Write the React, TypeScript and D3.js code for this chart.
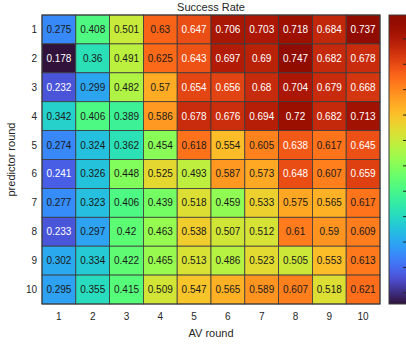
import React, { useRef, useEffect } from 'react';
import * as d3 from 'd3';

const avRounds = ['1', '2', '3', '4', '5', '6', '7', '8', '9', '10'];
const predictorRounds = ['1', '2', '3', '4', '5', '6', '7', '8', '9', '10'];

// rows = predictor round, columns = AV round
const row1 = [0.275, 0.408, 0.501, 0.63, 0.647, 0.706, 0.703, 0.718, 0.684, 0.737];
const row2 = [0.178, 0.36, 0.491, 0.625, 0.643, 0.697, 0.69, 0.747, 0.682, 0.678];
const row3 = [0.232, 0.299, 0.482, 0.57, 0.654, 0.656, 0.68, 0.704, 0.679, 0.668];
const row4 = [0.342, 0.406, 0.389, 0.586, 0.678, 0.676, 0.694, 0.72, 0.682, 0.713];
const row5 = [0.274, 0.324, 0.362, 0.454, 0.618, 0.554, 0.605, 0.638, 0.617, 0.645];
const row6 = [0.241, 0.326, 0.448, 0.525, 0.493, 0.587, 0.573, 0.648, 0.607, 0.659];
const row7 = [0.277, 0.323, 0.406, 0.439, 0.518, 0.459, 0.533, 0.575, 0.565, 0.617];
const row8 = [0.233, 0.297, 0.42, 0.463, 0.538, 0.507, 0.512, 0.61, 0.59, 0.609];
const row9 = [0.302, 0.334, 0.422, 0.465, 0.513, 0.486, 0.523, 0.505, 0.553, 0.613];
const row10 = [0.295, 0.355, 0.415, 0.509, 0.547, 0.565, 0.589, 0.607, 0.518, 0.621];

const rows = [row1, row2, row3, row4, row5, row6, row7, row8, row9, row10];

const colorTicks = [0.2, 0.25, 0.3, 0.35, 0.4, 0.45, 0.5, 0.55, 0.6, 0.65, 0.7];

// d3's turbo approximation runs almost black at the bottom; matlab's starts at dark purple
const turbo = (t: number) => {
  const cut = 0.08;
  if (t < cut) return d3.interpolateRgb('#30123b', d3.interpolateTurbo(cut))(t / cut);
  return d3.interpolateTurbo(t);
};

export default function App() {
  const svgRef = useRef<SVGSVGElement>(null);
  const width = 406;
  const height = 348;
  const margin = { left: 42, right: 26, top: 15, bottom: 44 };

  useEffect(() => {
    const svg = d3.select(svgRef.current);
    svg.selectAll('*').remove();
    const font = 'Liberation Sans, Arial, Helvetica, sans-serif';
    const textColor = '#262626';

    const all = rows.flat();
    const vmin = d3.min(all) as number;
    const vmax = d3.max(all) as number;
    const color = d3.scaleSequential(turbo).domain([vmin, vmax]);

    const x = d3.scaleBand().domain(avRounds).range([margin.left, width - margin.right]);
    const y = d3.scaleBand().domain(predictorRounds).range([margin.top, height - margin.bottom]);

    const cells = rows.flatMap((r, i) => r.map((v, j) => ({ row: predictorRounds[i], col: avRounds[j], v })));

    svg
      .append('g')
      .selectAll('rect')
      .data(cells)
      .join('rect')
      .attr('x', (d) => x(d.col)!)
      .attr('y', (d) => y(d.row)!)
      .attr('width', x.bandwidth())
      .attr('height', y.bandwidth())
      .attr('fill', (d) => color(d.v))
      .attr('stroke', '#3a3a3a')
      .attr('stroke-width', 0.8);

    svg
      .append('g')
      .selectAll('text')
      .data(cells)
      .join('text')
      .attr('x', (d) => x(d.col)! + x.bandwidth() / 2)
      .attr('y', (d) => y(d.row)! + y.bandwidth() / 2)
      .attr('dy', '0.35em')
      .attr('text-anchor', 'middle')
      .attr('font-family', font)
      .attr('font-size', 10)
      .attr('fill', (d) => (d.v > 0.635 || d.v < 0.25 ? '#ffffff' : '#1a1a1a'))
      .text((d) => String(d.v));

    // outer border
    const [x0, x1] = x.range();
    const [y0, y1] = y.range();
    svg
      .append('rect')
      .attr('x', x0)
      .attr('y', y0)
      .attr('width', x1 - x0)
      .attr('height', y1 - y0)
      .attr('fill', 'none')
      .attr('stroke', '#3a3a3a')
      .attr('stroke-width', 1);

    // tick labels
    svg
      .append('g')
      .selectAll('text')
      .data(avRounds)
      .join('text')
      .attr('x', (d) => x(d)! + x.bandwidth() / 2)
      .attr('y', y1 + 16)
      .attr('text-anchor', 'middle')
      .attr('font-family', font)
      .attr('font-size', 10)
      .attr('fill', textColor)
      .text((d) => d);

    svg
      .append('g')
      .selectAll('text')
      .data(predictorRounds)
      .join('text')
      .attr('x', x0 - 5)
      .attr('y', (d) => y(d)! + y.bandwidth() / 2)
      .attr('dy', '0.35em')
      .attr('text-anchor', 'end')
      .attr('font-family', font)
      .attr('font-size', 10)
      .attr('fill', textColor)
      .text((d) => d);

    // title + axis labels
    svg
      .append('text')
      .attr('x', (x0 + x1) / 2)
      .attr('y', 11)
      .attr('text-anchor', 'middle')
      .attr('font-family', font)
      .attr('font-size', 11)
      .attr('fill', textColor)
      .text('Success Rate');

    svg
      .append('text')
      .attr('x', (x0 + x1) / 2)
      .attr('y', y1 + 33)
      .attr('text-anchor', 'middle')
      .attr('font-family', font)
      .attr('font-size', 11)
      .attr('fill', textColor)
      .text('AV round');

    svg
      .append('text')
      .attr('transform', `translate(15,${(y0 + y1) / 2}) rotate(-90)`)
      .attr('text-anchor', 'middle')
      .attr('font-family', font)
      .attr('font-size', 11)
      .attr('fill', textColor)
      .text('predictor round');

    // colorbar (runs past the right edge, as in the original)
    const cbX = x1 + 9;
    const cbW = 19;
    const cbScale = d3.scaleLinear().domain([vmin, vmax]).range([y1, y0]);
    const grad = svg
      .append('defs')
      .append('linearGradient')
      .attr('id', 'cb')
      .attr('x1', 0)
      .attr('y1', 1)
      .attr('x2', 0)
      .attr('y2', 0);
    d3.range(0, 1.0001, 0.02).forEach((t) => {
      grad
        .append('stop')
        .attr('offset', t)
        .attr('stop-color', turbo(t));
    });
    svg
      .append('rect')
      .attr('x', cbX)
      .attr('y', y0)
      .attr('width', cbW)
      .attr('height', y1 - y0)
      .attr('fill', 'url(#cb)')
      .attr('stroke', '#3a3a3a')
      .attr('stroke-width', 1);
    svg
      .append('g')
      .selectAll('line')
      .data(colorTicks)
      .join('line')
      .attr('x1', cbX + cbW - 5)
      .attr('x2', cbX + cbW)
      .attr('y1', (d) => cbScale(d))
      .attr('y2', (d) => cbScale(d))
      .attr('stroke', '#262626')
      .attr('stroke-width', 1);
  }, []);

  return (
    <svg
      ref={svgRef}
      width={width}
      height={height}
      style={{ position: 'absolute', left: 0, top: 0, background: '#ffffff' }}
    />
  );
}
